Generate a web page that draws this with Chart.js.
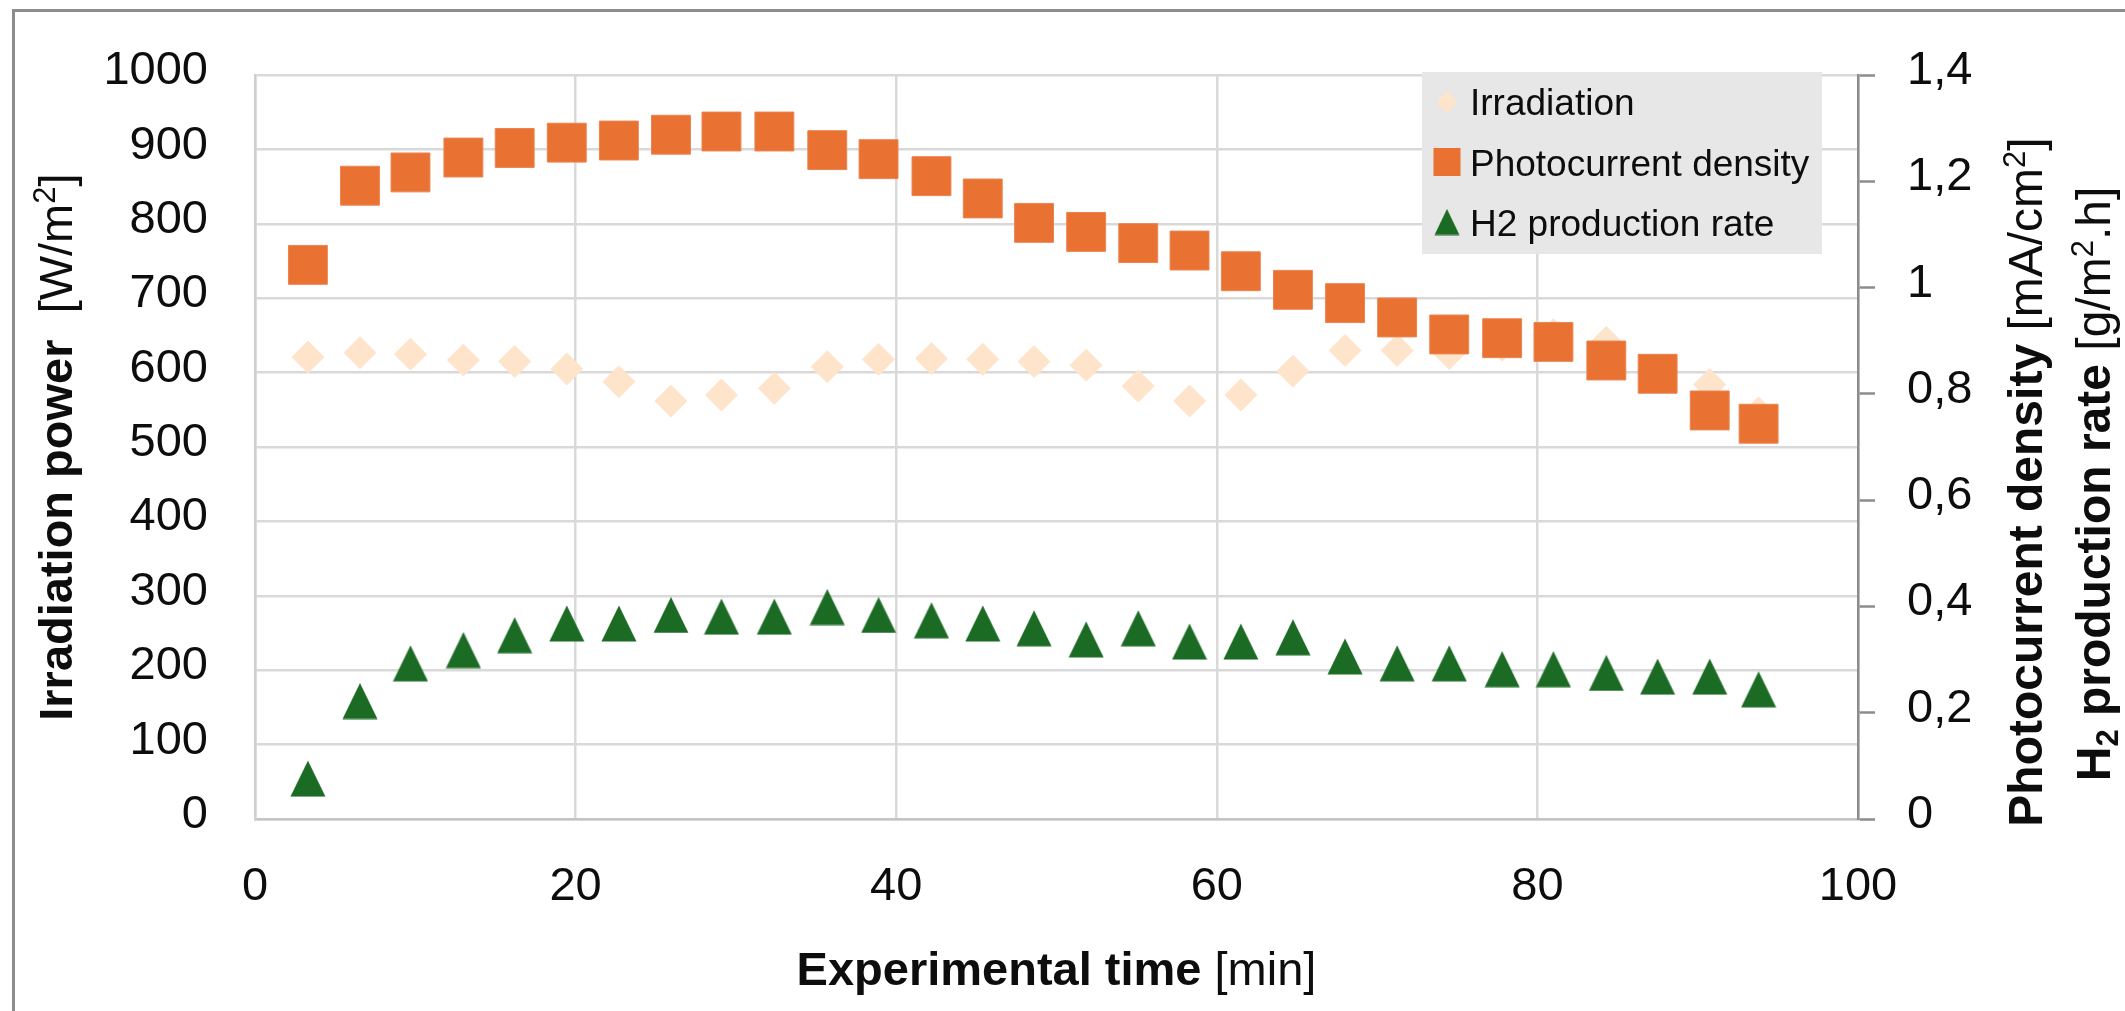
<!DOCTYPE html>
<html>
<head>
<meta charset="utf-8">
<script src="https://cdn.jsdelivr.net/npm/chart.js@4.4.1/dist/chart.umd.min.js"></script>
<style>
  html, body { margin: 0; padding: 0; background: #fff; }
  #wrap { width: 2125px; height: 1011px; position: relative; }
</style>
</head>
<body>
<div id="wrap"><canvas id="myChart"></canvas></div>
<script>
"use strict";
/* ---------------------- DATA --------------------*/
var timeMin = [3.3, 6.55, 9.7, 13.0, 16.2, 19.45, 22.7, 25.95, 29.1, 32.4, 35.7, 38.9, 42.2, 45.4, 48.6,
  51.85, 55.1, 58.3, 61.5, 64.75, 68.0, 71.25, 74.5, 77.8, 81.0, 84.3, 87.5, 90.75, 93.8];
var irradiation = [621, 627, 625, 617, 615, 605, 588, 562, 570, 579, 608, 618, 619, 618, 615,
  610, 582, 562, 570, 602, 630, 630, 626, 637, 651, 641, 597, 584, 546];
var photocurrent = [1.043, 1.192, 1.217, 1.245, 1.263, 1.273, 1.277, 1.288, 1.294, 1.294, 1.259, 1.242, 1.210, 1.168, 1.122,
  1.105, 1.084, 1.070, 1.031, 0.996, 0.971, 0.944, 0.912, 0.905, 0.898, 0.863, 0.838, 0.769, 0.744];
var h2Rate = [0.076, 0.222, 0.293, 0.318, 0.346, 0.368, 0.368, 0.384, 0.381, 0.381, 0.399, 0.384, 0.374, 0.368, 0.359,
  0.338, 0.359, 0.334, 0.334, 0.342, 0.306, 0.293, 0.293, 0.282, 0.282, 0.275, 0.268, 0.268, 0.244];

var xTicks = [0, 20, 40, 60, 80, 100];
var xTickLabels = ["0", "20", "40", "60", "80", "100"];
var leftTicks = [0, 100, 200, 300, 400, 500, 600, 700, 800, 900, 1000];
var leftTickLabels = ["0", "100", "200", "300", "400", "500", "600", "700", "800", "900", "1000"];
var rightTicks = [0, 0.2, 0.4, 0.6, 0.8, 1, 1.2, 1.4];
var rightTickLabels = ["0", "0,2", "0,4", "0,6", "0,8", "1", "1,2", "1,4"];

var FONT = "'Liberation Sans', Arial, sans-serif";
var TXT = "#0d0d0d";
var PEACH = "#FFE4CC";
var ORANGE = "#E97132";
var GREEN = "#1B6B24";

Chart.defaults.font.family = FONT;
Chart.defaults.color = TXT;

function points(ys) {
  return timeMin.map(function(t, i) { return { x: t, y: ys[i] }; });
}

function makeTriangle(w, h, color) {
  var c = document.createElement("canvas");
  c.width = w;
  c.height = h;
  var g = c.getContext("2d");
  g.fillStyle = color;
  g.beginPath();
  g.moveTo(w / 2, 0.5);
  g.lineTo(w - 0.5, h - 0.5);
  g.lineTo(0.5, h - 0.5);
  g.closePath();
  g.fill();
  return c;
}
var triMarker = makeTriangle(36, 37, GREEN);
var triLegend = makeTriangle(26, 27, GREEN);

/* ---------------------- TEXT HELPERS --------------------*/
function fontFor(p, size) {
  var s = (p.sup || p.sub) ? Math.round(size * 0.65) : size;
  return (p.bold ? "bold " : "") + s + "px " + FONT;
}
function richWidth(ctx, parts, size) {
  var w = 0;
  parts.forEach(function(p) {
    ctx.font = fontFor(p, size);
    w += ctx.measureText(p.t).width;
  });
  return w;
}
function drawRich(ctx, parts, size, cx, cy, vertical) {
  ctx.save();
  ctx.translate(cx, cy);
  if (vertical) ctx.rotate(-Math.PI / 2);
  ctx.fillStyle = TXT;
  ctx.textAlign = "left";
  ctx.textBaseline = "alphabetic";
  var x = -richWidth(ctx, parts, size) / 2;
  parts.forEach(function(p) {
    ctx.font = fontFor(p, size);
    var dy = p.sup ? -size * 0.36 : (p.sub ? size * 0.16 : 0);
    ctx.fillText(p.t, x, dy);
    x += ctx.measureText(p.t).width;
  });
  ctx.restore();
}

/* ---------------------- DECOR PLUGIN --------------------*/
var decor = {
  id: "decor",
  afterDraw: function(chart) {
    var ctx = chart.ctx;
    var area = chart.chartArea;

    // outer frame
    ctx.save();
    ctx.strokeStyle = "#8c8c8c";
    ctx.lineWidth = 3;
    ctx.beginPath();
    ctx.moveTo(13.5, 1020);
    ctx.lineTo(13.5, 10.5);
    ctx.lineTo(2130, 10.5);
    ctx.stroke();
    ctx.restore();

    // axis titles
    drawRich(ctx, [
      { t: "Irradiation power", bold: true },
      { t: "  [W/m" }, { t: "2", sup: true }, { t: "]" }
    ], 47, 72, (area.top + area.bottom) / 2, true);

    drawRich(ctx, [
      { t: "Experimental time", bold: true },
      { t: " [min]" }
    ], 47, (area.left + area.right) / 2, 985, false);

    drawRich(ctx, [
      { t: "Photocurrent density", bold: true },
      { t: " [mA/cm" }, { t: "2", sup: true }, { t: "]" }
    ], 48, 2042, 482, true);

    drawRich(ctx, [
      { t: "H", bold: true }, { t: "2", bold: true, sub: true },
      { t: " production rate", bold: true },
      { t: " [g/m" }, { t: "2", sup: true }, { t: ".h]" }
    ], 48, 2110, 484, true);

    // legend
    ctx.save();
    ctx.fillStyle = "#e7e7e7";
    ctx.fillRect(1422, 72, 400, 182);
    var ds = chart.data.datasets;
    var rows = [
      { label: ds[0].label, cy: 102, base: 115 },
      { label: ds[1].label, cy: 162, base: 176 },
      { label: ds[2].label, cy: 222, base: 236 }
    ];
    var mx = 1447;
    // diamond
    ctx.fillStyle = PEACH;
    ctx.beginPath();
    ctx.moveTo(mx, rows[0].cy - 12);
    ctx.lineTo(mx + 10, rows[0].cy);
    ctx.lineTo(mx, rows[0].cy + 12);
    ctx.lineTo(mx - 10, rows[0].cy);
    ctx.closePath();
    ctx.fill();
    // square
    ctx.fillStyle = ORANGE;
    ctx.fillRect(mx - 13.5, rows[1].cy - 14, 27, 28);
    // triangle
    ctx.drawImage(triLegend, mx - 13, rows[2].cy - 13.5);

    ctx.fillStyle = TXT;
    ctx.font = "37px " + FONT;
    ctx.textAlign = "left";
    ctx.textBaseline = "alphabetic";
    rows.forEach(function(r) {
      ctx.fillText(r.label, 1470, r.base);
    });
    ctx.restore();
  }
};

/* ---------------------- CHART --------------------*/
var ctx = document.getElementById("myChart").getContext("2d");
var chart = new Chart(ctx, {
  type: "scatter",
  data: {
    datasets: [{
      label: "Irradiation",
      data: points(irradiation),
      yAxisID: "yL",
      pointStyle: "rectRot",
      pointRadius: 16,
      pointHoverRadius: 16,
      backgroundColor: PEACH,
      borderColor: PEACH,
      borderWidth: 1,
      order: 3
    },
    {
      label: "Photocurrent density",
      data: points(photocurrent),
      yAxisID: "yR",
      pointStyle: "rect",
      pointRadius: 27.5,
      pointHoverRadius: 27.5,
      backgroundColor: ORANGE,
      borderColor: "#ec8450",
      borderWidth: 1,
      order: 1
    },
    {
      label: "H2 production rate",
      data: points(h2Rate),
      yAxisID: "yR",
      pointStyle: triMarker,
      pointRadius: 18,
      pointHoverRadius: 18,
      backgroundColor: GREEN,
      borderColor: GREEN,
      order: 2
    }]
  },
  options: {
    responsive: true,
    maintainAspectRatio: false,
    animation: false,
    events: [],
    layout: { padding: { top: 59, left: 0, right: 0, bottom: 0 } },
    plugins: {
      legend: { display: false },
      tooltip: { enabled: false }
    },
    scales: {
      x: {
        type: "linear",
        min: 0,
        max: 100,
        afterBuildTicks: function(scale) {
          scale.ticks = xTicks.map(function(v) { return { value: v }; });
        },
        afterFit: function(scale) { scale.height = 192; },
        grid: { color: "#d9d9d9", lineWidth: 2.5, drawTicks: false },
        border: { display: true, color: "#c4c4c4", width: 2.5 },
        ticks: {
          font: { size: 47 },
          color: TXT,
          padding: 40,
          maxRotation: 0,
          autoSkip: false,
          callback: function(value, index) { return xTickLabels[index]; }
        }
      },
      yL: {
        type: "linear",
        position: "left",
        min: 0,
        max: 1000,
        afterBuildTicks: function(scale) {
          scale.ticks = leftTicks.map(function(v) { return { value: v }; });
        },
        afterFit: function(scale) { scale.width = 255; },
        grid: { color: "#d9d9d9", lineWidth: 2.5, drawTicks: false },
        border: { display: true, color: "#cfcfcf", width: 2.5 },
        ticks: {
          font: { size: 47 },
          color: TXT,
          padding: 47,
          labelOffset: -4,
          autoSkip: false,
          callback: function(value, index) { return leftTickLabels[index]; }
        }
      },
      yR: {
        type: "linear",
        position: "right",
        min: 0,
        max: 1.4,
        afterBuildTicks: function(scale) {
          scale.ticks = rightTicks.map(function(v) { return { value: v }; });
        },
        afterFit: function(scale) { scale.width = 267; },
        grid: {
          drawOnChartArea: false,
          drawTicks: true,
          tickLength: 17,
          tickColor: "#8c8c8c",
          tickWidth: 2.5
        },
        border: { display: true, color: "#8c8c8c", width: 2.5 },
        ticks: {
          font: { size: 47 },
          color: TXT,
          padding: 32,
          labelOffset: -4,
          autoSkip: false,
          callback: function(value, index) { return rightTickLabels[index]; }
        }
      }
    }
  },
  plugins: [decor]
});
</script>
</body>
</html>
